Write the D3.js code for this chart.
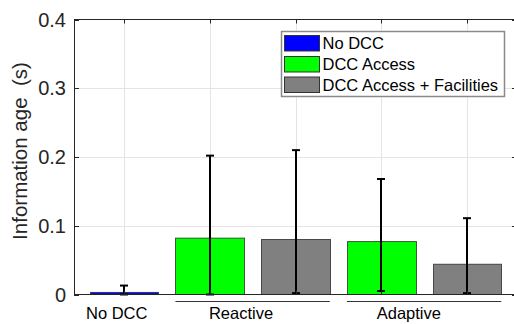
<!DOCTYPE html>
<html>
<head>
<meta charset="utf-8">
<script src="https://cdn.jsdelivr.net/npm/d3@7/dist/d3.min.js"></script>
<style>
  html, body { margin: 0; padding: 0; background: #fff; }
  svg { display: block; font-family: "Liberation Sans", Arial, Helvetica, sans-serif; }
</style>
</head>
<body>
<svg id="chart" width="514" height="324"></svg>
<script>
// Mean information age per configuration, with error-bar extents (seconds)
const series = ["No DCC", "DCC Access", "DCC Access + Facilities"];
const seriesColors = ["#0000ff", "#00ff00", "#808080"];
const barSeries = [0, 1, 2, 1, 2];
const meanAge = [0.003, 0.082, 0.080, 0.077, 0.044];
const errLow = [0.0, 0.0, 0.002, 0.005, 0.002];
const errHigh = [0.013, 0.202, 0.210, 0.168, 0.111];
const groupLabels = ["No DCC", "Reactive", "Adaptive"];
const groupLabelPos = [0.915, 2.365, 4.322];
const groupSpans = [null, [2, 3], [4, 5]];
const yTicks = [0, 0.1, 0.2, 0.3, 0.4];
const yTickLabels = ["0", "0.1", "0.2", "0.3", "0.4"];

const svg = d3.select("#chart");
const axisColor = "#262626";
const gridColor = "#e4e4e4";
const barWidth = 0.8;

const plotLeft = 74, plotRight = 517, plotTop = 19.5, plotBottom = 294.5;
const x = d3.scaleLinear().domain([0.4166, 5.5834]).range([plotLeft, plotRight]);
const y = d3.scaleLinear().domain([0, 0.4]).range([plotBottom, plotTop]);
const idx = d3.range(1, meanAge.length + 1);

// grid
const grid = svg.append("g");
grid.selectAll("line.gx").data(idx).join("line")
  .attr("x1", d => Math.round(x(d)) + 0.5).attr("x2", d => Math.round(x(d)) + 0.5)
  .attr("y1", plotTop).attr("y2", plotBottom)
  .attr("stroke", gridColor).attr("stroke-width", 1);
grid.selectAll("line.gy").data(yTicks.slice(1, -1)).join("line")
  .attr("x1", plotLeft).attr("x2", plotRight)
  .attr("y1", d => Math.round(y(d)) + 0.5).attr("y2", d => Math.round(y(d)) + 0.5)
  .attr("stroke", gridColor).attr("stroke-width", 1);

// bars
svg.append("g").selectAll("rect").data(idx).join("rect")
  .attr("x", d => Math.round(x(d - barWidth / 2)) + 0.5)
  .attr("width", d => Math.round(x(d + barWidth / 2)) - Math.round(x(d - barWidth / 2)))
  .attr("y", (d, i) => y(meanAge[i]))
  .attr("height", (d, i) => y(0) - y(meanAge[i]))
  .attr("fill", (d, i) => seriesColors[barSeries[i]])
  .attr("stroke", "#222")
  .attr("stroke-opacity", 0.75)
  .attr("stroke-width", 1);

// error bars
const eb = svg.append("g").attr("stroke", "#000").attr("stroke-width", 2);
idx.forEach((d, i) => {
  const cx = Math.round(x(d));
  eb.append("line").attr("x1", cx).attr("x2", cx)
    .attr("y1", y(errLow[i])).attr("y2", y(errHigh[i]));
  [errLow[i], errHigh[i]].forEach(v => {
    eb.append("line").attr("x1", cx - 4).attr("x2", cx + 4)
      .attr("y1", y(v)).attr("y2", y(v));
  });
});

// axes box
const ax = svg.append("g").attr("stroke", axisColor).attr("stroke-width", 1).attr("fill", "none");
ax.append("rect").attr("x", plotLeft + 0.5).attr("y", plotTop).attr("width", plotRight - plotLeft).attr("height", plotBottom - plotTop);
ax.selectAll("line.tx").data(idx).join("line")
  .attr("x1", d => Math.round(x(d)) + 0.5).attr("x2", d => Math.round(x(d)) + 0.5)
  .attr("y1", plotTop).attr("y2", plotTop + 4);
ax.selectAll("line.bx").data(idx).join("line")
  .attr("x1", d => Math.round(x(d)) + 0.5).attr("x2", d => Math.round(x(d)) + 0.5)
  .attr("y1", plotBottom).attr("y2", plotBottom - 4);
ax.selectAll("line.ly").data(yTicks).join("line")
  .attr("x1", plotLeft).attr("x2", plotLeft + 5)
  .attr("y1", d => Math.round(y(d)) + 0.5).attr("y2", d => Math.round(y(d)) + 0.5);
ax.selectAll("line.ry").data(yTicks).join("line")
  .attr("x1", plotRight - 5).attr("x2", plotRight)
  .attr("y1", d => Math.round(y(d)) + 0.5).attr("y2", d => Math.round(y(d)) + 0.5);

// y tick labels
svg.append("g").selectAll("text").data(yTicks).join("text")
  .attr("x", plotLeft - 8).attr("y", d => y(d))
  .attr("dy", "0.35em")
  .attr("text-anchor", "end")
  .attr("font-size", 20)
  .attr("fill", axisColor)
  .text((d, i) => yTickLabels[i]);

// y label
svg.append("text")
  .attr("transform", "translate(27,151) rotate(-90)")
  .attr("text-anchor", "middle")
  .attr("font-size", 20.5)
  .attr("fill", axisColor)
  .attr("xml:space", "preserve")
  .style("white-space", "pre")
  .text("Information age  (s)");

// group labels and spans
svg.append("g").selectAll("text").data(groupLabels).join("text")
  .attr("x", (d, i) => x(groupLabelPos[i]))
  .attr("y", 319.3)
  .attr("text-anchor", "middle")
  .attr("font-size", 16.5)
  .attr("fill", "#000")
  .text(d => d);
svg.append("g").selectAll("line").data(groupSpans.filter(s => s)).join("line")
  .attr("x1", s => x(s[0] - barWidth / 2)).attr("x2", s => x(s[1] + barWidth / 2))
  .attr("y1", 301.5).attr("y2", 301.5)
  .attr("stroke", "#333").attr("stroke-width", 1);

// legend
const lg = svg.append("g").attr("transform", "translate(281,31)");
lg.append("rect").attr("x", 0.5).attr("y", 0.5).attr("width", 223).attr("height", 65)
  .attr("fill", "#fff").attr("stroke", "#8a8a8a").attr("stroke-width", 1.5);
const rowY = [4, 25, 45.5];
series.forEach((s, i) => {
  lg.append("rect").attr("x", 3.5).attr("y", rowY[i] + 0.5).attr("width", 35).attr("height", 15.5)
    .attr("fill", seriesColors[i]).attr("stroke", "#333").attr("stroke-width", 1);
  lg.append("text").attr("x", 41.5).attr("y", rowY[i] + 8.5).attr("dy", "0.36em")
    .attr("font-size", 16.5).attr("fill", "#000").text(s);
});
</script>
</body>
</html>
